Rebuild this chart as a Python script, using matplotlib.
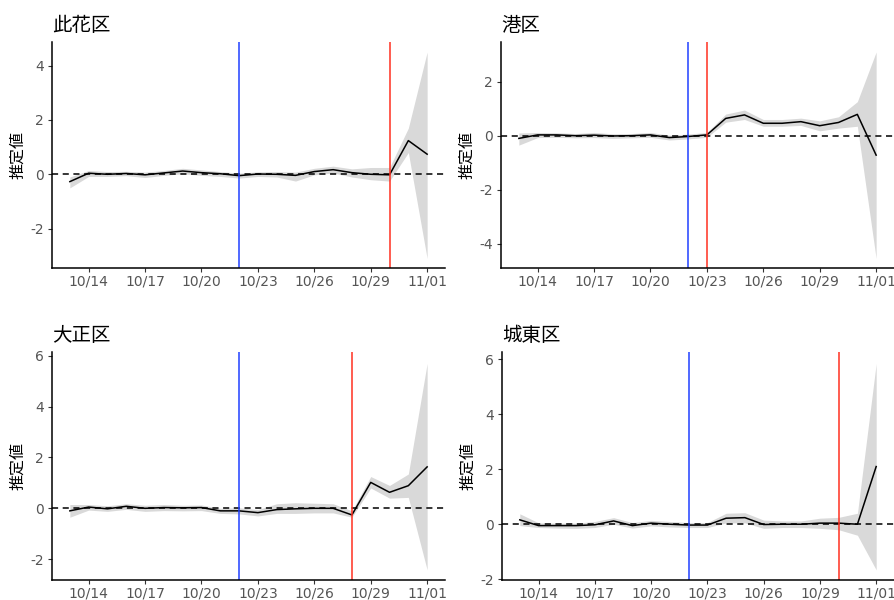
import numpy as np
import pandas as pd
import matplotlib
matplotlib.use("Agg")
import matplotlib.pyplot as plt
import matplotlib.dates as mdates

plt.rcParams['font.family'] = ['Noto Sans CJK JP', 'DejaVu Sans']
plt.rcParams['axes.unicode_minus'] = False

dates = pd.date_range("2020-10-13", "2020-11-01", freq="D")
blue_date = pd.Timestamp("2020-10-22")

wards = ["此花区", "港区", "大正区", "城東区"]
red_dates = [pd.Timestamp("2020-10-30"), pd.Timestamp("2020-10-23"),
             pd.Timestamp("2020-10-28"), pd.Timestamp("2020-10-30")]

est_konohana = [-0.27, 0.04, 0.0, 0.03, -0.02, 0.05, 0.12, 0.06, 0.02, -0.05,
                0.01, 0.0, -0.04, 0.1, 0.17, 0.06, 0.0, -0.02, 1.24, 0.74]
lo_konohana = [-0.5, -0.08, -0.08, -0.05, -0.12, -0.04, 0.02, -0.04, -0.08, -0.14,
               -0.08, -0.1, -0.25, -0.02, 0.05, -0.1, -0.2, -0.25, 0.8, -3.1]
hi_konohana = [-0.1, 0.14, 0.1, 0.11, 0.08, 0.14, 0.22, 0.16, 0.1, 0.04,
               0.09, 0.1, 0.08, 0.22, 0.3, 0.2, 0.25, 0.25, 1.7, 4.5]

est_minato = [-0.1, 0.03, 0.03, 0.0, 0.02, -0.01, 0.0, 0.03, -0.07, -0.03,
              0.03, 0.64, 0.77, 0.46, 0.46, 0.52, 0.37, 0.49, 0.79, -0.72]
lo_minato = [-0.35, -0.07, -0.06, -0.08, -0.07, -0.1, -0.08, -0.06, -0.16, -0.12,
             -0.06, 0.5, 0.6, 0.35, 0.35, 0.38, 0.18, 0.28, 0.35, -4.55]
hi_minato = [0.1, 0.12, 0.11, 0.08, 0.12, 0.07, 0.08, 0.12, 0.02, 0.06,
             0.12, 0.8, 0.95, 0.6, 0.6, 0.65, 0.55, 0.7, 1.26, 3.1]

est_taisho = [-0.1, 0.05, -0.02, 0.08, 0.0, 0.03, 0.02, 0.03, -0.1, -0.1,
              -0.17, -0.05, -0.02, 0.0, 0.0, -0.26, 1.02, 0.63, 0.89, 1.63]
lo_taisho = [-0.35, -0.07, -0.12, -0.04, -0.12, -0.09, -0.1, -0.09, -0.2, -0.22,
             -0.3, -0.2, -0.2, -0.18, -0.18, -0.35, 0.8, 0.4, 0.43, -2.42]
hi_taisho = [0.15, 0.15, 0.1, 0.18, 0.12, 0.15, 0.12, 0.13, 0.0, 0.02,
             -0.05, 0.18, 0.22, 0.2, 0.18, -0.1, 1.25, 0.9, 1.35, 5.7]

est_joto = [0.16, -0.05, -0.05, -0.05, -0.02, 0.12, -0.05, 0.04, 0.0, -0.03,
            -0.03, 0.22, 0.24, -0.01, 0.0, 0.0, 0.04, 0.04, 0.0, 2.1]
lo_joto = [-0.05, -0.12, -0.14, -0.15, -0.12, 0.0, -0.14, -0.06, -0.1, -0.12,
           -0.12, 0.05, 0.05, -0.15, -0.12, -0.12, -0.15, -0.2, -0.4, -1.66]
hi_joto = [0.38, 0.05, 0.04, 0.04, 0.1, 0.24, 0.06, 0.14, 0.1, 0.06,
           0.06, 0.4, 0.42, 0.15, 0.12, 0.12, 0.22, 0.25, 0.4, 5.85]

estimates = [est_konohana, est_minato, est_taisho, est_joto]
lowers = [lo_konohana, lo_minato, lo_taisho, lo_joto]
uppers = [hi_konohana, hi_minato, hi_taisho, hi_joto]

ylims = [(-3.45, 4.87), (-4.9, 3.47), (-2.82, 6.15), (-2.03, 6.27)]
yticks = [[-2, 0, 2, 4], [-4, -2, 0, 2], [-2, 0, 2, 4, 6], [-2, 0, 2, 4, 6]]

# panel boxes in pixels: left, right, top, bottom
boxes = [(52, 445, 42, 268), (501, 894, 42, 268),
         (52, 445, 352, 580), (502, 894, 352, 580)]

W, H = 894, 600
fig = plt.figure(figsize=(W / 100, H / 100), dpi=100)

span = dates[-1] - dates[0]
xlo = dates[0] - span * 0.05
xhi = dates[-1] + span * 0.05
xticks = dates[1::3]

for i in range(4):
    l, r, t, b = boxes[i]
    ax = fig.add_axes([l / W, 1 - b / H, (r - l) / W, (b - t) / H])
    ax.fill_between(dates, lowers[i], uppers[i], color="#D9D9D9", lw=0)
    ax.axhline(0, color="black", ls=(0, (4, 3)), lw=1.1)
    ax.plot(dates, estimates[i], color="black", lw=1.1)
    ax.axvline(blue_date, color="#2040ff", lw=1.1)
    ax.axvline(red_dates[i], color="#ff3020", lw=1.1)

    ax.set_xlim(xlo, xhi)
    ax.set_ylim(*ylims[i])
    ax.set_xticks(xticks)
    ax.xaxis.set_major_formatter(mdates.DateFormatter("%m/%d"))
    ax.set_yticks(yticks[i])
    ax.set_yticklabels([str(v) for v in yticks[i]])
    for lab in ax.get_xticklabels() + ax.get_yticklabels():
        lab.set_fontfamily("DejaVu Sans")

    for s in ["top", "right"]:
        ax.spines[s].set_visible(False)
    for s in ["left", "bottom"]:
        ax.spines[s].set_linewidth(1.1)
    ax.tick_params(axis="both", length=3, width=0.8, color="#333333",
                   labelcolor="#555555", labelsize=10)
    ax.tick_params(axis="y", pad=3)
    ax.tick_params(axis="x", pad=2)
    ax.set_ylabel("推定値", fontsize=11.5, labelpad=3)
    ax.set_title(wards[i], loc="left", fontsize=14, pad=8)

fig.savefig("out.png", dpi=100)
